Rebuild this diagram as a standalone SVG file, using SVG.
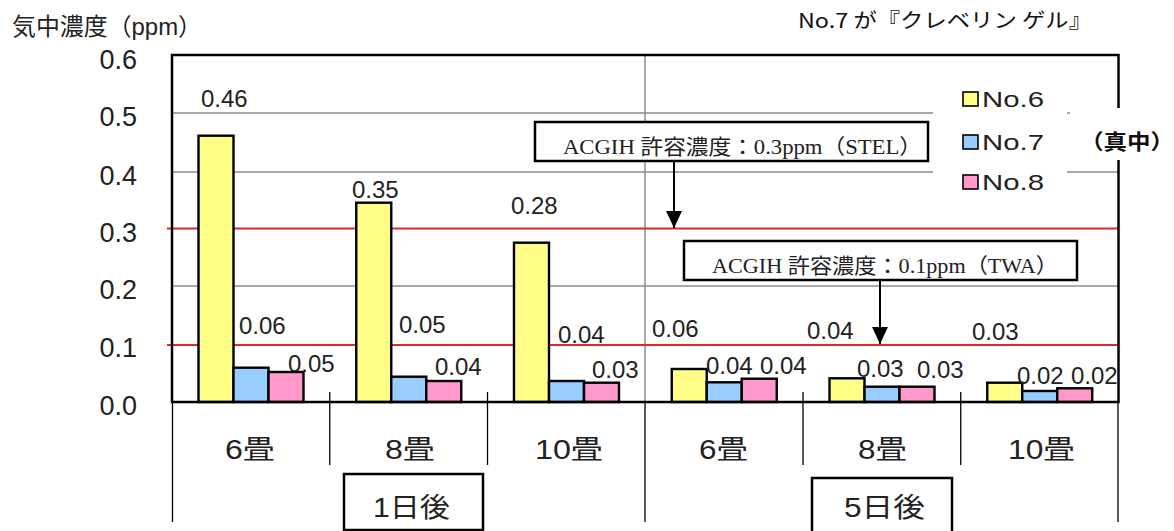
<svg xmlns="http://www.w3.org/2000/svg" width="1174" height="531" viewBox="0 0 1174 531">
<defs>
<style>
.grid{stroke:#8c8c8c;stroke-width:1.5;fill:none}
.red{stroke:#e8262a;stroke-width:2;fill:none}
.frame{stroke:#000;stroke-width:2.5;fill:none}
.sep{stroke:#000;stroke-width:1.3;fill:none}
.y{fill:#ffff88;stroke:#000;stroke-width:2.4}
.b{fill:#99ccff;stroke:#000;stroke-width:2.4}
.p{fill:#ff99cc;stroke:#000;stroke-width:2.4}
.ax{font-family:"Liberation Sans",Arial,sans-serif;font-size:27px;fill:#222;text-anchor:end}
.val{font-family:"Liberation Sans",Arial,sans-serif;font-size:24px;fill:#222}
.cat{font-family:"Liberation Sans","Noto Sans CJK JP",sans-serif;font-size:27px;fill:#222}
.leg{font-family:"Liberation Sans",Arial,sans-serif;font-size:22px;fill:#222}
.note{font-family:"Liberation Serif","Noto Sans CJK JP",serif;font-size:21px;fill:#222}
.box{fill:#fff;stroke:#000;stroke-width:2.5}
.conn{stroke:#000;stroke-width:2;fill:none}
</style>
<marker id="ah" viewBox="0 0 17 16" refX="17" refY="8" markerWidth="17" markerHeight="16" markerUnits="userSpaceOnUse" orient="auto">
<path d="M0,0 L17,8 L0,16 Z" fill="#000"/>
</marker>
</defs>
<rect width="1174" height="531" fill="#fff"/>

<g id="title">
<text x="12" y="35" style="font-family:'Liberation Sans','Noto Sans CJK JP',sans-serif;font-size:24px;fill:#222" textLength="190" lengthAdjust="spacingAndGlyphs">気中濃度（ppm）</text>
<text x="798" y="28" style="font-family:'Noto Sans CJK JP',monospace;font-size:20px;fill:#111" textLength="294" lengthAdjust="spacingAndGlyphs">No.7 が『クレベリン ゲル』</text>
</g>

<g id="gridlines">
<line class="grid" x1="172" y1="113" x2="933" y2="113"/>
<line class="grid" x1="172" y1="172" x2="933" y2="172"/>
<line class="grid" x1="1067" y1="172" x2="1118" y2="172"/>
<line class="grid" x1="1067" y1="113" x2="1118" y2="113"/>
<line class="grid" x1="172" y1="286" x2="1118" y2="286"/>
<line class="grid" x1="645" y1="55" x2="645" y2="402"/>
<line class="red" x1="167" y1="228.5" x2="1118" y2="228.5"/>
<line class="red" x1="167" y1="345" x2="1118" y2="345"/>
</g>

<g id="y-axis-labels">
<text class="ax" x="137" y="69">0.6</text>
<text class="ax" x="137" y="126">0.5</text>
<text class="ax" x="137" y="185">0.4</text>
<text class="ax" x="137" y="241.5">0.3</text>
<text class="ax" x="137" y="299">0.2</text>
<text class="ax" x="137" y="356.5">0.1</text>
<text class="ax" x="137" y="414.5">0.0</text>
</g>

<g id="bars">
<rect class="y" x="198.5" y="135.7" width="35" height="266.3"/>
<rect class="b" x="233.5" y="367.7" width="35" height="34.3"/>
<rect class="p" x="268.5" y="372" width="35" height="30"/>
<rect class="y" x="356.25" y="202.7" width="35" height="199.3"/>
<rect class="b" x="391.25" y="376.7" width="35" height="25.3"/>
<rect class="p" x="426.25" y="381" width="35" height="21"/>
<rect class="y" x="514" y="242.7" width="35" height="159.3"/>
<rect class="b" x="549" y="381" width="35" height="21"/>
<rect class="p" x="584" y="382.7" width="35" height="19.3"/>
<rect class="y" x="671.75" y="369" width="35" height="33"/>
<rect class="b" x="706.75" y="382.3" width="35" height="19.7"/>
<rect class="p" x="741.75" y="378.7" width="35" height="23.3"/>
<rect class="y" x="829.5" y="378.3" width="35" height="23.7"/>
<rect class="b" x="864.5" y="386.7" width="35" height="15.3"/>
<rect class="p" x="899.5" y="386.7" width="35" height="15.3"/>
<rect class="y" x="987.25" y="382.7" width="35" height="19.3"/>
<rect class="b" x="1022.25" y="391" width="35" height="11"/>
<rect class="p" x="1057.25" y="388.3" width="35" height="13.7"/>
</g>

<g id="frame">
<rect class="frame" x="172" y="55" width="946.5" height="347"/>
<line class="sep" x1="329.75" y1="392" x2="329.75" y2="465"/>
<line class="sep" x1="487.5" y1="392" x2="487.5" y2="465"/>
<line class="sep" x1="803" y1="392" x2="803" y2="465"/>
<line class="sep" x1="960.75" y1="392" x2="960.75" y2="465"/>
<line class="sep" x1="172.5" y1="402" x2="172.5" y2="522"/>
<line class="sep" x1="645" y1="402" x2="645" y2="522"/>
<line class="sep" x1="1118" y1="402" x2="1118" y2="522"/>
</g>

<g id="value-labels">
<text class="val" x="201" y="106.5">0.46</text>
<text class="val" x="239" y="334">0.06</text>
<text class="val" x="288" y="372">0.05</text>
<text class="val" x="352" y="198">0.35</text>
<text class="val" x="399" y="333">0.05</text>
<text class="val" x="435" y="375">0.04</text>
<text class="val" x="511" y="214">0.28</text>
<text class="val" x="558" y="343">0.04</text>
<text class="val" x="592" y="378">0.03</text>
<text class="val" x="652" y="337">0.06</text>
<text class="val" x="706" y="374">0.04</text>
<text class="val" x="760" y="374">0.04</text>
<text class="val" x="807" y="339">0.04</text>
<text class="val" x="857" y="377">0.03</text>
<text class="val" x="917" y="378">0.03</text>
<text class="val" x="972" y="340">0.03</text>
<text class="val" x="1017" y="384">0.02</text>
<text class="val" x="1071" y="384">0.02</text>
</g>

<g id="legend">
<rect x="933" y="84" width="134" height="114" fill="#fff"/>
<rect x="963" y="92" width="15" height="14" fill="#ffff88" stroke="#000" stroke-width="1.6"/>
<text class="leg" x="982" y="107" textLength="62" lengthAdjust="spacingAndGlyphs">No.6</text>
<rect x="963" y="135" width="15" height="14" fill="#99ccff" stroke="#000" stroke-width="1.6"/>
<text class="leg" x="982" y="150" textLength="62" lengthAdjust="spacingAndGlyphs">No.7</text>
<rect x="963" y="175" width="15" height="14" fill="#ff99cc" stroke="#000" stroke-width="1.6"/>
<text class="leg" x="982" y="190" textLength="62" lengthAdjust="spacingAndGlyphs">No.8</text>
</g>

<g id="center-note">
<rect x="1070" y="108" width="104" height="52" fill="#fff"/>
<text x="1080" y="149" style="font-family:'Noto Sans CJK JP',sans-serif;font-size:21px;font-weight:bold;fill:#111" textLength="94" lengthAdjust="spacingAndGlyphs">（真中）</text>
</g>

<g id="stel-note">
<rect class="box" x="535" y="122" width="393" height="39"/>
<text class="note" x="563" y="154" textLength="359" lengthAdjust="spacingAndGlyphs">ACGIH 許容濃度：0.3ppm（STEL）</text>
</g>

<g id="twa-note">
<rect class="box" x="684" y="241" width="393" height="39"/>
<text class="note" x="712" y="273" textLength="346" lengthAdjust="spacingAndGlyphs">ACGIH 許容濃度：0.1ppm（TWA）</text>
</g>

<g id="connectors">
<line class="conn" x1="674" y1="161" x2="674" y2="228" marker-end="url(#ah)"/>
<line class="conn" x1="880" y1="280" x2="880" y2="344" marker-end="url(#ah)"/>
</g>

<g id="category-labels">
<text class="cat" x="225" y="459" textLength="50" lengthAdjust="spacingAndGlyphs">6畳</text>
<text class="cat" x="385" y="459" textLength="50" lengthAdjust="spacingAndGlyphs">8畳</text>
<text class="cat" x="535" y="459" textLength="68" lengthAdjust="spacingAndGlyphs">10畳</text>
<text class="cat" x="699" y="459" textLength="49" lengthAdjust="spacingAndGlyphs">6畳</text>
<text class="cat" x="858" y="459" textLength="49" lengthAdjust="spacingAndGlyphs">8畳</text>
<text class="cat" x="1008" y="459" textLength="67" lengthAdjust="spacingAndGlyphs">10畳</text>
</g>

<g id="day1">
<rect class="box" x="344" y="474" width="139" height="56"/>
<text class="cat" x="373" y="517" textLength="77" lengthAdjust="spacingAndGlyphs">1日後</text>
</g>
<g id="day5">
<rect class="box" x="812" y="478" width="140" height="56"/>
<text class="cat" x="844" y="517" textLength="81" lengthAdjust="spacingAndGlyphs">5日後</text>
</g>
</svg>
